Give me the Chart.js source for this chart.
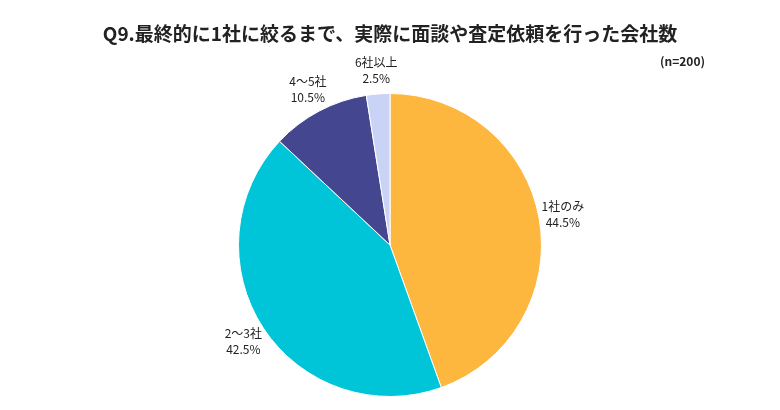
<!DOCTYPE html>
<html><head><meta charset="utf-8">
<script src="https://cdn.jsdelivr.net/npm/chart.js@4"></script>
<style>body{margin:0;background:#fff}#w{width:780px;height:410px}</style>
</head><body><div id="w"><canvas id="c"></canvas></div>
<script>
const categories=["1社のみ","2～3社","4～5社","6社以上"];
const values=[44.5,42.5,10.5,2.5];
const colors=["#FDB73E","#00C5D8","#454690","#C9D3F5"];
const title="Q9.最終的に1社に絞るまで、実際に面談や査定依頼を行った会社数";
const note="(n=200)";
const F='"Noto Sans CJK JP","Noto Sans",sans-serif';
const labels={id:'labels',afterDraw(ch){
 const c=ch.ctx;c.save();
 c.fillStyle='#222';c.font='bold 19px '+F;c.textAlign='center';c.textBaseline='middle';
 c.fillText(title,390,34);
 c.font='bold 12px '+F;c.textAlign='right';c.fillText(note,705,61);
 c.font='12px '+F;c.textAlign='center';
 ch.getDatasetMeta(0).data.forEach((a,i)=>{
  const m=(a.startAngle+a.endAngle)/2,r=a.outerRadius+24;
  const x=a.x+Math.cos(m)*r,y=a.y+Math.sin(m)*r;
  c.fillText(categories[i],x,y-8);c.fillText(values[i].toFixed(1)+'%',x,y+8);
 });c.restore();}};
new Chart(document.getElementById('c'),{type:'pie',
 data:{labels:categories,datasets:[{data:values,backgroundColor:colors,borderColor:'#fff',borderWidth:1}]},
 options:{responsive:true,maintainAspectRatio:false,animation:false,
  layout:{padding:{top:93,bottom:13}},
  plugins:{legend:{display:false},tooltip:{enabled:false}}},
 plugins:[labels]});
</script></body></html>
